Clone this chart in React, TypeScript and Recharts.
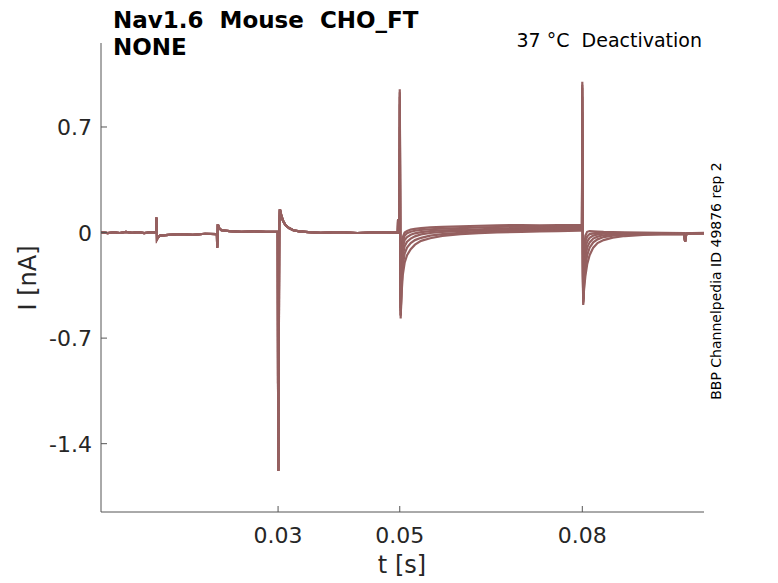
import React from 'react';
import { LineChart, Line, XAxis, YAxis } from 'recharts';

// holding + prepulse part, identical for every sweep
const PRE_TIME = [
  0.0009, 0.002, 0.003, 0.004, 0.005, 0.006, 0.007, 0.008, 0.009, 0.00995,
  0.01, 0.01005, 0.0101, 0.0103, 0.0106, 0.012, 0.014, 0.016, 0.018, 0.0199,
  0.01995, 0.02, 0.02005, 0.0201, 0.0203, 0.0207, 0.022, 0.024, 0.026, 0.028,
  0.0299, 0.02995, 0.03, 0.03005, 0.0301, 0.03015, 0.0302, 0.0303, 0.0305, 0.0308,
  0.0312, 0.0318, 0.0325, 0.0335, 0.035, 0.037, 0.04, 0.043, 0.046, 0.0496,
];
const PRE_CURRENT = [
  0.003, -0.004, 0.002, -0.003, 0.004, -0.002, 0.003, -0.004, 0.002, 0.0,
  0.1, 0.06, -0.045, -0.03, -0.02, -0.015, -0.01, -0.015, -0.008, -0.01,
  -0.01, -0.1, -0.05, 0.055, 0.03, 0.015, 0.01, 0.005, 0.008, 0.004,
  0.005, 0.0, -1.0, -1.58, -1.2, -0.4, 0.05, 0.155, 0.12, 0.08,
  0.05, 0.03, 0.015, 0.008, 0.003, -0.002, 0.003, -0.003, 0.002, 0.0,
];

// test pulse + tail, one array per sweep
const TAIL_TIME = [
  0.04968, 0.04972, 0.04995, 0.05, 0.05005, 0.0501, 0.05015, 0.0502, 0.0503, 0.0505,
  0.0508, 0.0512, 0.0518, 0.0525, 0.0535, 0.055, 0.057, 0.06, 0.063, 0.066,
  0.07, 0.073, 0.076, 0.0795, 0.07995, 0.08, 0.08005, 0.0801, 0.08015, 0.0802,
  0.0803, 0.0805, 0.0808, 0.0812, 0.0818, 0.0825, 0.0835, 0.085, 0.087, 0.09,
  0.093, 0.0967, 0.0969, 0.0971, 0.098, 0.1,
];
const SWEEP_1 = [
  0.0, 0.08, 0.08, 0.95, 0.5, -0.2, -0.5, -0.35, -0.15, -0.03,
  0.0, 0.01, 0.02, 0.025, 0.03, 0.034, 0.038, 0.042, 0.045, 0.048,
  0.05, 0.048, 0.05, 0.05, 0.05, 1.0, 0.5, -0.15, -0.4, -0.3,
  -0.12, -0.02, 0.005, 0.01, 0.008, 0.006, 0.004, 0.003, 0.002, 0.0,
  -0.002, -0.003, -0.06, -0.004, -0.003, -0.002,
];
const SWEEP_2 = [
  0.0, 0.08, 0.08, 0.93, 0.45, -0.25, -0.52, -0.4, -0.2, -0.06,
  -0.02, -0.005, 0.005, 0.012, 0.018, 0.022, 0.026, 0.03, 0.034, 0.037,
  0.04, 0.041, 0.04, 0.042, 0.042, 0.98, 0.45, -0.2, -0.44, -0.35,
  -0.17, -0.06, -0.025, -0.01, -0.005, -0.002, -0.002, -0.002, -0.003, -0.003,
  -0.004, -0.004, -0.06, -0.005, -0.004, -0.003,
];
const SWEEP_3 = [
  0.0, 0.08, 0.08, 0.9, 0.4, -0.3, -0.55, -0.45, -0.26, -0.1,
  -0.05, -0.03, -0.015, -0.005, 0.003, 0.01, 0.014, 0.018, 0.022, 0.026,
  0.03, 0.03, 0.032, 0.032, 0.032, 0.96, 0.4, -0.25, -0.46, -0.4,
  -0.23, -0.11, -0.06, -0.035, -0.02, -0.012, -0.008, -0.006, -0.005, -0.005,
  -0.006, -0.006, -0.06, -0.006, -0.005, -0.004,
];
const SWEEP_4 = [
  0.0, 0.08, 0.08, 0.85, 0.3, -0.35, -0.57, -0.5, -0.32, -0.16,
  -0.09, -0.06, -0.04, -0.025, -0.012, -0.003, 0.004, 0.01, 0.014, 0.017,
  0.02, 0.022, 0.024, 0.025, 0.025, 0.9, 0.35, -0.3, -0.48, -0.43,
  -0.29, -0.17, -0.1, -0.065, -0.04, -0.027, -0.018, -0.012, -0.009, -0.008,
  -0.008, -0.007, -0.06, -0.007, -0.006, -0.005,
];
const SWEEP_5 = [
  0.0, 0.08, 0.08, 0.7, 0.2, -0.3, -0.55, -0.5, -0.36, -0.22,
  -0.14, -0.1, -0.07, -0.05, -0.035, -0.02, -0.01, -0.002, 0.004, 0.008,
  0.012, 0.014, 0.016, 0.017, 0.017, 0.8, 0.3, -0.3, -0.47, -0.44,
  -0.34, -0.23, -0.15, -0.1, -0.065, -0.045, -0.03, -0.02, -0.014, -0.011,
  -0.01, -0.009, -0.06, -0.008, -0.007, -0.006,
];
const SWEEP_6 = [
  0.0, 0.08, 0.08, 0.55, 0.15, -0.25, -0.5, -0.48, -0.4, -0.28,
  -0.2, -0.15, -0.11, -0.08, -0.055, -0.038, -0.022, -0.01, -0.004, 0.001,
  0.005, 0.008, 0.01, 0.012, 0.012, 0.65, 0.25, -0.28, -0.45, -0.43,
  -0.37, -0.29, -0.21, -0.15, -0.1, -0.07, -0.05, -0.034, -0.023, -0.016,
  -0.012, -0.01, -0.06, -0.009, -0.008, -0.007,
];
const SWEEPS = [SWEEP_1, SWEEP_2, SWEEP_3, SWEEP_4, SWEEP_5, SWEEP_6];

const X_TICKS = [0.03, 0.05, 0.08];
const Y_TICKS = [-1.4, -0.7, 0, 0.7];

const TRACE = '#956060';
const AXIS = '#555555';
const FONT = '"DejaVu Sans", sans-serif';

const rows = [
  ...PRE_TIME.map((t, i) => {
    const r: any = { t };
    SWEEPS.forEach((_, k) => (r[`s${k}`] = PRE_CURRENT[i]));
    return r;
  }),
  ...TAIL_TIME.map((t, i) => {
    const r: any = { t };
    SWEEPS.forEach((s, k) => (r[`s${k}`] = s[i]));
    return r;
  }),
];

const XTick = ({ x, y, payload }: any) => (
  <g>
    <line x1={x} y1={y} x2={x} y2={y - 6} stroke={AXIS} strokeWidth={1} />
    <text x={x} y={y + 31} textAnchor="middle" fontSize={22} fontFamily={FONT} fill="#262626">
      {payload.value}
    </text>
  </g>
);

const YTick = ({ x, y, payload }: any) => (
  <g>
    <line x1={x} y1={y} x2={x + 6} y2={y} stroke={AXIS} strokeWidth={1} />
    <text x={x - 9} y={y + 8} textAnchor="end" fontSize={22} fontFamily={FONT} fill="#262626">
      {payload.value}
    </text>
  </g>
);

const App: React.FC = () => (
  <div style={{ position: 'absolute', left: 0, top: 0, width: 778, height: 583, background: '#fff' }}>
    <LineChart width={778} height={583} data={rows} margin={{ top: 43, right: 74, bottom: 0, left: 0 }}>
      <XAxis
        dataKey="t"
        type="number"
        domain={[0.0009, 0.1]}
        ticks={X_TICKS}
        allowDataOverflow
        height={71}
        tickSize={0}
        tickMargin={0}
        tickLine={false}
        tick={<XTick />}
        axisLine={{ stroke: AXIS }}
      />
      <YAxis
        type="number"
        domain={[-1.853, 1.257]}
        ticks={Y_TICKS}
        allowDataOverflow
        width={101}
        tickSize={0}
        tickMargin={0}
        tickLine={false}
        tick={<YTick />}
        axisLine={{ stroke: AXIS }}
      />
      {SWEEPS.map((_, k) => (
        <Line
          key={k}
          dataKey={`s${k}`}
          type="linear"
          stroke={TRACE}
          strokeWidth={2.2}
          dot={false}
          isAnimationActive={false}
        />
      ))}
    </LineChart>
    <svg width={778} height={583} style={{ position: 'absolute', left: 0, top: 0, pointerEvents: 'none' }}>
      <text x={113} y={28} fontSize={23} fontWeight="bold" fontFamily={FONT} fill="#000">
        Nav1.6{'\u00a0\u00a0'}Mouse{'\u00a0\u00a0'}CHO_FT
      </text>
      <text x={113} y={55} fontSize={23} fontWeight="bold" fontFamily={FONT} fill="#000">
        NONE
      </text>
      <text x={702} y={47} textAnchor="end" fontSize={19} fontFamily={FONT} fill="#000">
        37 °C{'\u00a0\u00a0'}Deactivation
      </text>
      <text x={402} y={573} textAnchor="middle" fontSize={24} fontFamily={FONT} fill="#262626">
        t [s]
      </text>
      <text
        transform="translate(36,278) rotate(-90)"
        textAnchor="middle"
        fontSize={24}
        fontFamily={FONT}
        fill="#262626"
      >
        I [nA]
      </text>
      <text
        transform="translate(721,281) rotate(-90)"
        textAnchor="middle"
        fontSize={14}
        fontFamily={FONT}
        fill="#000"
      >
        BBP Channelpedia ID 49876 rep 2
      </text>
    </svg>
  </div>
);

export default App;
